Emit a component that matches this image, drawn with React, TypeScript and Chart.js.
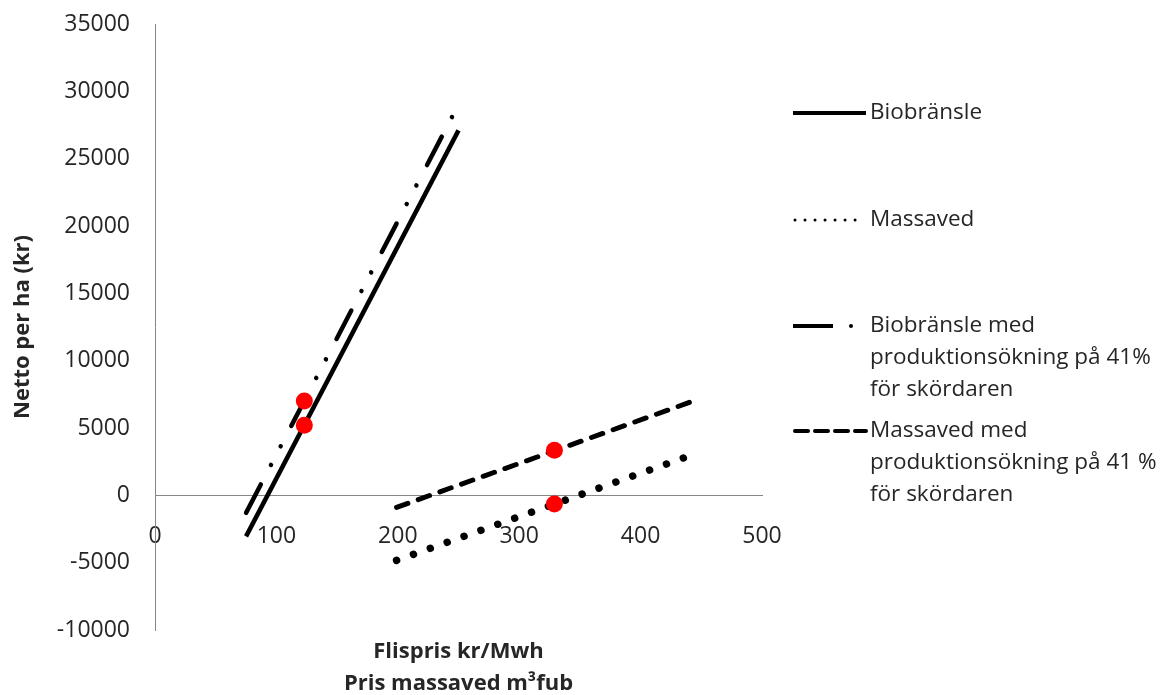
import React, { useEffect, useRef } from 'react';
import { Chart, registerables } from 'chart.js';

Chart.register(...registerables);

// ---- data ----
const bioX = [75, 250];
const bioY = [-3050, 27100];

const massX = [199, 437];
const massY = [-4830, 2830];

const bioMedX = [75, 247];
const bioMedY = [-1300, 28500];

const massMedX = [199, 448];
const massMedY = [-890, 7150];

const markerX = [123, 123, 329, 329];
const markerY = [5200, 7000, 3350, -650];

const xTicks = [0, 100, 200, 300, 400, 500];
const yTicks = [-10000, -5000, 0, 5000, 10000, 15000, 20000, 25000, 30000, 35000];

const legendLabels = [
  ['Biobränsle'],
  ['Massaved'],
  ['Biobränsle med', 'produktionsökning på 41%', 'för skördaren'],
  ['Massaved med', 'produktionsökning på 41 %', 'för skördaren'],
];

const xTitleLines = ['Flispris kr/Mwh', 'Pris massaved m³fub'];
const yTitle = 'Netto per ha (kr)';

// ---- styling ----
const FONT = "'Open Sans', 'DejaVu Sans', sans-serif";
const TEXT = '#262626';
const AXIS = '#868686';

const pts = (xs: number[], ys: number[]) => xs.map((x, i) => ({ x, y: ys[i] }));

const legendPlugin = {
  id: 'customLegendAndTitle',
  afterDraw(chart: any) {
    const ctx: CanvasRenderingContext2D = chart.ctx;
    const area = chart.chartArea;
    ctx.save();

    // X axis title
    ctx.fillStyle = TEXT;
    ctx.font = `bold 22px ${FONT}`;
    ctx.textAlign = 'center';
    ctx.textBaseline = 'middle';
    const cx = (area.left + area.right) / 2;
    xTitleLines.forEach((t, i) => ctx.fillText(t, cx, 652 + i * 32));

    // Legend
    const x0 = 793;
    const textX = 870;
    const itemY = [113, 220, 326, 431];
    ctx.strokeStyle = '#000';
    ctx.fillStyle = '#000';

    // solid
    ctx.lineWidth = 4;
    ctx.lineCap = 'butt';
    ctx.setLineDash([]);
    ctx.beginPath();
    ctx.moveTo(x0, itemY[0]);
    ctx.lineTo(866, itemY[0]);
    ctx.stroke();

    // dotted
    ctx.lineWidth = 3;
    ctx.lineCap = 'round';
    ctx.setLineDash([0.01, 10]);
    ctx.beginPath();
    ctx.moveTo(x0 + 2, itemY[1]);
    ctx.lineTo(860, itemY[1]);
    ctx.stroke();

    // dash-dot
    ctx.lineWidth = 4;
    ctx.lineCap = 'butt';
    ctx.setLineDash([]);
    ctx.beginPath();
    ctx.moveTo(x0, itemY[2]);
    ctx.lineTo(833, itemY[2]);
    ctx.stroke();
    ctx.beginPath();
    ctx.arc(851, itemY[2], 2, 0, Math.PI * 2);
    ctx.fill();

    // dashed
    ctx.lineWidth = 4;
    ctx.lineCap = 'round';
    ctx.setLineDash([13, 7]);
    ctx.beginPath();
    ctx.moveTo(x0 + 2, itemY[3]);
    ctx.lineTo(866, itemY[3]);
    ctx.stroke();
    ctx.setLineDash([]);

    ctx.fillStyle = TEXT;
    ctx.font = `22.5px ${FONT}`;
    ctx.textAlign = 'left';
    ctx.textBaseline = 'middle';
    legendLabels.forEach((lines, i) => {
      lines.forEach((t, j) => ctx.fillText(t, textX, itemY[i] + j * 32));
    });

    ctx.restore();
  },
};

export default function App() {
  const ref = useRef<HTMLCanvasElement>(null);

  useEffect(() => {
    const chart = new Chart(ref.current as HTMLCanvasElement, {
      type: 'scatter',
      data: {
        datasets: [
          {
            label: 'Punkter',
            data: pts(markerX, markerY),
            showLine: false,
            pointRadius: 8.5,
            pointBackgroundColor: '#ff0000',
            pointBorderWidth: 0,
            backgroundColor: '#ff0000',
          },
          {
            label: 'Biobränsle',
            data: pts(bioX, bioY),
            showLine: true,
            borderColor: '#000',
            borderWidth: 4.5,
            pointRadius: 0,
          },
          {
            label: 'Massaved',
            data: pts(massX, massY),
            showLine: true,
            borderColor: '#000',
            borderWidth: 7.5,
            borderCapStyle: 'round',
            borderDash: [0.01, 17.9],
            pointRadius: 0,
          },
          {
            label: 'Biobränsle med produktionsökning på 41% för skördaren',
            data: pts(bioMedX, bioMedY),
            showLine: true,
            borderColor: '#000',
            borderWidth: 4.5,
            borderCapStyle: 'round',
            borderDash: [32, 22, 0.01, 21, 0.01, 23],
            pointRadius: 0,
          },
          {
            label: 'Massaved med produktionsökning på 41 % för skördaren',
            data: pts(massMedX, massMedY),
            showLine: true,
            borderColor: '#000',
            borderWidth: 5,
            borderCapStyle: 'round',
            borderDash: [12, 11],
            pointRadius: 0,
          },
        ],
      },
      options: {
        animation: false,
        responsive: true,
        maintainAspectRatio: false,
        layout: { padding: { top: 24, right: 404, bottom: 65, left: 0 } },
        plugins: {
          legend: { display: false },
          tooltip: { enabled: false },
        },
        scales: {
          x: {
            type: 'linear',
            position: { y: 0 } as any,
            min: 0,
            max: 500,
            afterBuildTicks: (scale: any) => {
              scale.ticks = xTicks.map((v) => ({ value: v }));
            },
            afterFit: (scale: any) => {
              scale.paddingLeft = 0;
              scale.paddingRight = 0;
            },
            grid: { display: false, drawTicks: false },
            border: { display: true, color: AXIS, width: 1 },
            ticks: {
              color: TEXT,
              font: { family: FONT, size: 23 },
              padding: 27,
              maxRotation: 0,
              autoSkip: false,
              callback: (v: any) => String(v),
            },
          },
          y: {
            type: 'linear',
            position: 'left',
            min: -10000,
            max: 35000,
            afterBuildTicks: (scale: any) => {
              scale.ticks = yTicks.map((v) => ({ value: v }));
            },
            afterFit: (scale: any) => {
              scale.width = 155;
              scale.paddingTop = 0;
              scale.paddingBottom = 0;
            },
            grid: { display: false, drawTicks: false },
            border: { display: true, color: AXIS, width: 1 },
            ticks: {
              color: TEXT,
              font: { family: FONT, size: 23 },
              padding: 25,
              autoSkip: false,
              callback: (v: any) => String(v),
            },
            title: {
              display: true,
              text: yTitle,
              color: TEXT,
              font: { family: FONT, size: 22, weight: 'bold' },
              padding: { top: 10, bottom: 0 },
            },
          },
        },
      },
      plugins: [legendPlugin],
    } as any);
    return () => chart.destroy();
  }, []);

  return (
    <div style={{ position: 'absolute', left: 0, top: 0, width: 1166, height: 695, background: '#fff' }}>
      <canvas ref={ref} />
    </div>
  );
}
